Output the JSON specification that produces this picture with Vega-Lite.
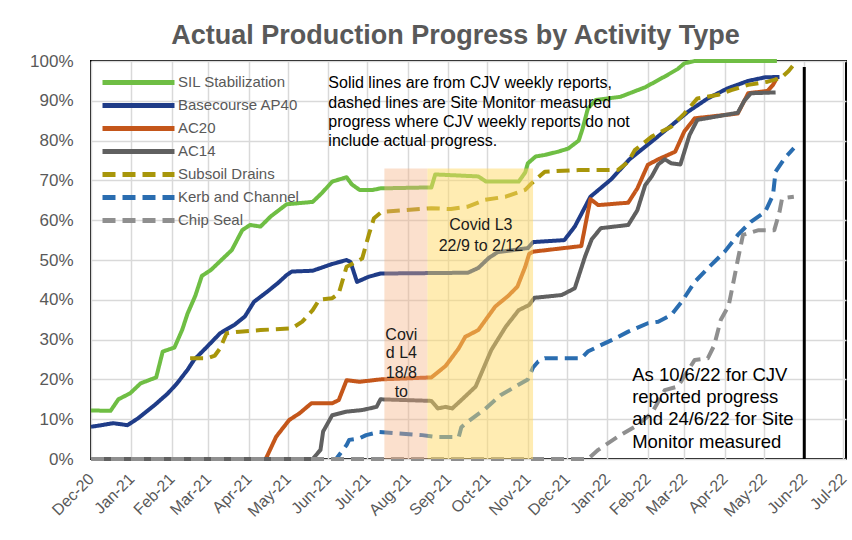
{
  "$schema": "https://vega.github.io/schema/vega-lite/v6.json",
  "width": 755,
  "height": 398,
  "autosize": {"type": "none"},
  "padding": {"left": 91, "top": 61, "right": 6, "bottom": 81},
  "background": "white",
  "config": {
    "font": "Liberation Sans",
    "view": {"stroke": "#000000", "strokeWidth": 2}
  },
  "title": {
    "text": "Actual Production Progress by Activity Type",
    "fontSize": 27,
    "fontWeight": "bold",
    "color": "#595959",
    "font": "Liberation Sans",
    "anchor": "middle",
    "frame": "group",
    "dx": -13,
    "dy": 35,
    "offset": 16,
    "baseline": "alphabetic"
  },
  "datasets": {
    "series": [
      {"series": "SIL Stabilization", "date": "2020-12-01", "pct": 12.2},
      {"series": "SIL Stabilization", "date": "2020-12-16", "pct": 12.1},
      {"series": "SIL Stabilization", "date": "2020-12-22", "pct": 15},
      {"series": "SIL Stabilization", "date": "2020-12-31", "pct": 16.5},
      {"series": "SIL Stabilization", "date": "2021-01-08", "pct": 19},
      {"series": "SIL Stabilization", "date": "2021-01-20", "pct": 20.5},
      {"series": "SIL Stabilization", "date": "2021-01-25", "pct": 27},
      {"series": "SIL Stabilization", "date": "2021-02-03", "pct": 28},
      {"series": "SIL Stabilization", "date": "2021-02-09", "pct": 32.5},
      {"series": "SIL Stabilization", "date": "2021-02-13", "pct": 36.5},
      {"series": "SIL Stabilization", "date": "2021-02-19", "pct": 41},
      {"series": "SIL Stabilization", "date": "2021-02-24", "pct": 46},
      {"series": "SIL Stabilization", "date": "2021-03-03", "pct": 47.5},
      {"series": "SIL Stabilization", "date": "2021-03-11", "pct": 50},
      {"series": "SIL Stabilization", "date": "2021-03-19", "pct": 52.5},
      {"series": "SIL Stabilization", "date": "2021-03-27", "pct": 57.5},
      {"series": "SIL Stabilization", "date": "2021-04-02", "pct": 58.8},
      {"series": "SIL Stabilization", "date": "2021-04-10", "pct": 58.4},
      {"series": "SIL Stabilization", "date": "2021-04-18", "pct": 61},
      {"series": "SIL Stabilization", "date": "2021-04-30", "pct": 64},
      {"series": "SIL Stabilization", "date": "2021-05-20", "pct": 64.6},
      {"series": "SIL Stabilization", "date": "2021-05-27", "pct": 66.8},
      {"series": "SIL Stabilization", "date": "2021-06-04", "pct": 69.7},
      {"series": "SIL Stabilization", "date": "2021-06-15", "pct": 70.8},
      {"series": "SIL Stabilization", "date": "2021-06-19", "pct": 69},
      {"series": "SIL Stabilization", "date": "2021-06-25", "pct": 67.6},
      {"series": "SIL Stabilization", "date": "2021-07-05", "pct": 67.6},
      {"series": "SIL Stabilization", "date": "2021-07-11", "pct": 68},
      {"series": "SIL Stabilization", "date": "2021-08-12", "pct": 68.2},
      {"series": "SIL Stabilization", "date": "2021-08-19", "pct": 68.2},
      {"series": "SIL Stabilization", "date": "2021-08-22", "pct": 71.5},
      {"series": "SIL Stabilization", "date": "2021-09-24", "pct": 71},
      {"series": "SIL Stabilization", "date": "2021-09-30", "pct": 69.7},
      {"series": "SIL Stabilization", "date": "2021-10-25", "pct": 69.7},
      {"series": "SIL Stabilization", "date": "2021-10-30", "pct": 72},
      {"series": "SIL Stabilization", "date": "2021-11-01", "pct": 74.3},
      {"series": "SIL Stabilization", "date": "2021-11-07", "pct": 76},
      {"series": "SIL Stabilization", "date": "2021-11-14", "pct": 76.4},
      {"series": "SIL Stabilization", "date": "2021-11-24", "pct": 77.2},
      {"series": "SIL Stabilization", "date": "2021-12-02", "pct": 78},
      {"series": "SIL Stabilization", "date": "2021-12-10", "pct": 80},
      {"series": "SIL Stabilization", "date": "2021-12-13", "pct": 83},
      {"series": "SIL Stabilization", "date": "2021-12-17", "pct": 88},
      {"series": "SIL Stabilization", "date": "2021-12-23", "pct": 90.2},
      {"series": "SIL Stabilization", "date": "2022-01-11", "pct": 91},
      {"series": "SIL Stabilization", "date": "2022-01-30", "pct": 93.4},
      {"series": "SIL Stabilization", "date": "2022-02-14", "pct": 96.1},
      {"series": "SIL Stabilization", "date": "2022-02-24", "pct": 98},
      {"series": "SIL Stabilization", "date": "2022-03-01", "pct": 99.4},
      {"series": "SIL Stabilization", "date": "2022-03-09", "pct": 100},
      {"series": "SIL Stabilization", "date": "2022-05-11", "pct": 100},

      {"series": "Basecourse AP40", "date": "2020-12-01", "pct": 8.1},
      {"series": "Basecourse AP40", "date": "2020-12-09", "pct": 8.5},
      {"series": "Basecourse AP40", "date": "2020-12-18", "pct": 9},
      {"series": "Basecourse AP40", "date": "2020-12-29", "pct": 8.5},
      {"series": "Basecourse AP40", "date": "2021-01-06", "pct": 10.2},
      {"series": "Basecourse AP40", "date": "2021-01-19", "pct": 13.6},
      {"series": "Basecourse AP40", "date": "2021-01-29", "pct": 16.5},
      {"series": "Basecourse AP40", "date": "2021-02-05", "pct": 19},
      {"series": "Basecourse AP40", "date": "2021-02-13", "pct": 22.4},
      {"series": "Basecourse AP40", "date": "2021-02-18", "pct": 24.9},
      {"series": "Basecourse AP40", "date": "2021-02-28", "pct": 28.2},
      {"series": "Basecourse AP40", "date": "2021-03-10", "pct": 31.6},
      {"series": "Basecourse AP40", "date": "2021-03-21", "pct": 33.7},
      {"series": "Basecourse AP40", "date": "2021-03-29", "pct": 35.8},
      {"series": "Basecourse AP40", "date": "2021-04-05", "pct": 39.5},
      {"series": "Basecourse AP40", "date": "2021-04-15", "pct": 42},
      {"series": "Basecourse AP40", "date": "2021-04-23", "pct": 44.1},
      {"series": "Basecourse AP40", "date": "2021-04-30", "pct": 46.2},
      {"series": "Basecourse AP40", "date": "2021-05-04", "pct": 47.1},
      {"series": "Basecourse AP40", "date": "2021-05-20", "pct": 47.3},
      {"series": "Basecourse AP40", "date": "2021-06-04", "pct": 49},
      {"series": "Basecourse AP40", "date": "2021-06-15", "pct": 50},
      {"series": "Basecourse AP40", "date": "2021-06-18", "pct": 49.5},
      {"series": "Basecourse AP40", "date": "2021-06-23", "pct": 44.5},
      {"series": "Basecourse AP40", "date": "2021-07-02", "pct": 45.8},
      {"series": "Basecourse AP40", "date": "2021-07-11", "pct": 46.6},
      {"series": "Basecourse AP40", "date": "2021-09-16", "pct": 46.8},
      {"series": "Basecourse AP40", "date": "2021-09-24", "pct": 48},
      {"series": "Basecourse AP40", "date": "2021-10-02", "pct": 50.5},
      {"series": "Basecourse AP40", "date": "2021-10-09", "pct": 52},
      {"series": "Basecourse AP40", "date": "2021-10-21", "pct": 52.5},
      {"series": "Basecourse AP40", "date": "2021-11-01", "pct": 53},
      {"series": "Basecourse AP40", "date": "2021-11-05", "pct": 54.5},
      {"series": "Basecourse AP40", "date": "2021-11-29", "pct": 55},
      {"series": "Basecourse AP40", "date": "2021-12-07", "pct": 58.4},
      {"series": "Basecourse AP40", "date": "2021-12-19", "pct": 65.9},
      {"series": "Basecourse AP40", "date": "2022-01-04", "pct": 70.3},
      {"series": "Basecourse AP40", "date": "2022-01-18", "pct": 75.3},
      {"series": "Basecourse AP40", "date": "2022-02-03", "pct": 79.5},
      {"series": "Basecourse AP40", "date": "2022-02-18", "pct": 83.5},
      {"series": "Basecourse AP40", "date": "2022-03-04", "pct": 87.3},
      {"series": "Basecourse AP40", "date": "2022-03-19", "pct": 90.6},
      {"series": "Basecourse AP40", "date": "2022-04-03", "pct": 93.1},
      {"series": "Basecourse AP40", "date": "2022-04-19", "pct": 95},
      {"series": "Basecourse AP40", "date": "2022-05-02", "pct": 95.9},
      {"series": "Basecourse AP40", "date": "2022-05-13", "pct": 96},

      {"series": "AC20", "date": "2020-12-01", "pct": 0},
      {"series": "AC20", "date": "2021-04-14", "pct": 0},
      {"series": "AC20", "date": "2021-04-22", "pct": 5.6},
      {"series": "AC20", "date": "2021-05-02", "pct": 9.8},
      {"series": "AC20", "date": "2021-05-10", "pct": 11.5},
      {"series": "AC20", "date": "2021-05-19", "pct": 14},
      {"series": "AC20", "date": "2021-06-04", "pct": 14},
      {"series": "AC20", "date": "2021-06-09", "pct": 14.8},
      {"series": "AC20", "date": "2021-06-15", "pct": 19.8},
      {"series": "AC20", "date": "2021-06-25", "pct": 19.4},
      {"series": "AC20", "date": "2021-07-11", "pct": 20},
      {"series": "AC20", "date": "2021-08-19", "pct": 20.5},
      {"series": "AC20", "date": "2021-08-30", "pct": 23.4},
      {"series": "AC20", "date": "2021-09-09", "pct": 27.8},
      {"series": "AC20", "date": "2021-09-14", "pct": 30.7},
      {"series": "AC20", "date": "2021-09-24", "pct": 32.4},
      {"series": "AC20", "date": "2021-10-07", "pct": 38.3},
      {"series": "AC20", "date": "2021-10-17", "pct": 41},
      {"series": "AC20", "date": "2021-10-24", "pct": 43.3},
      {"series": "AC20", "date": "2021-10-30", "pct": 48.3},
      {"series": "AC20", "date": "2021-11-02", "pct": 51.5},
      {"series": "AC20", "date": "2021-11-05", "pct": 52.1},
      {"series": "AC20", "date": "2021-12-12", "pct": 53.5},
      {"series": "AC20", "date": "2021-12-19", "pct": 65.3},
      {"series": "AC20", "date": "2021-12-25", "pct": 63.8},
      {"series": "AC20", "date": "2022-01-17", "pct": 64.4},
      {"series": "AC20", "date": "2022-01-24", "pct": 68},
      {"series": "AC20", "date": "2022-02-01", "pct": 73.9},
      {"series": "AC20", "date": "2022-02-09", "pct": 75.3},
      {"series": "AC20", "date": "2022-02-22", "pct": 77.2},
      {"series": "AC20", "date": "2022-03-01", "pct": 82.3},
      {"series": "AC20", "date": "2022-03-09", "pct": 85.6},
      {"series": "AC20", "date": "2022-04-11", "pct": 86.8},
      {"series": "AC20", "date": "2022-04-19", "pct": 91.9},
      {"series": "AC20", "date": "2022-05-04", "pct": 92.5},
      {"series": "AC20", "date": "2022-05-08", "pct": 94},
      {"series": "AC20", "date": "2022-05-11", "pct": 95.7},

      {"series": "AC14", "date": "2020-12-01", "pct": 0},
      {"series": "AC14", "date": "2021-05-20", "pct": 0},
      {"series": "AC14", "date": "2021-05-26", "pct": 2.3},
      {"series": "AC14", "date": "2021-05-28", "pct": 6.9},
      {"series": "AC14", "date": "2021-06-04", "pct": 11},
      {"series": "AC14", "date": "2021-06-15", "pct": 11.9},
      {"series": "AC14", "date": "2021-06-27", "pct": 12.3},
      {"series": "AC14", "date": "2021-07-08", "pct": 13.1},
      {"series": "AC14", "date": "2021-07-11", "pct": 15},
      {"series": "AC14", "date": "2021-08-19", "pct": 14.6},
      {"series": "AC14", "date": "2021-08-24", "pct": 12.7},
      {"series": "AC14", "date": "2021-08-30", "pct": 13.1},
      {"series": "AC14", "date": "2021-09-04", "pct": 12.7},
      {"series": "AC14", "date": "2021-09-11", "pct": 14.8},
      {"series": "AC14", "date": "2021-09-22", "pct": 18.2},
      {"series": "AC14", "date": "2021-10-04", "pct": 27.4},
      {"series": "AC14", "date": "2021-10-15", "pct": 33.2},
      {"series": "AC14", "date": "2021-10-25", "pct": 37.4},
      {"series": "AC14", "date": "2021-11-02", "pct": 38.7},
      {"series": "AC14", "date": "2021-11-06", "pct": 40.5},
      {"series": "AC14", "date": "2021-11-27", "pct": 41.2},
      {"series": "AC14", "date": "2021-12-07", "pct": 42.9},
      {"series": "AC14", "date": "2021-12-15", "pct": 51},
      {"series": "AC14", "date": "2021-12-20", "pct": 55.2},
      {"series": "AC14", "date": "2021-12-27", "pct": 58},
      {"series": "AC14", "date": "2022-01-17", "pct": 58.8},
      {"series": "AC14", "date": "2022-01-24", "pct": 62.5},
      {"series": "AC14", "date": "2022-01-30", "pct": 68.8},
      {"series": "AC14", "date": "2022-02-04", "pct": 71},
      {"series": "AC14", "date": "2022-02-09", "pct": 74},
      {"series": "AC14", "date": "2022-02-14", "pct": 75.3},
      {"series": "AC14", "date": "2022-02-19", "pct": 74.3},
      {"series": "AC14", "date": "2022-02-26", "pct": 74},
      {"series": "AC14", "date": "2022-03-05", "pct": 81.4},
      {"series": "AC14", "date": "2022-03-11", "pct": 85.2},
      {"series": "AC14", "date": "2022-04-11", "pct": 87},
      {"series": "AC14", "date": "2022-04-16", "pct": 90},
      {"series": "AC14", "date": "2022-04-21", "pct": 91.9},
      {"series": "AC14", "date": "2022-05-10", "pct": 92.1},

      {"series": "Subsoil Drains", "date": "2021-02-15", "pct": 25.3},
      {"series": "Subsoil Drains", "date": "2021-02-28", "pct": 25.3},
      {"series": "Subsoil Drains", "date": "2021-03-06", "pct": 26},
      {"series": "Subsoil Drains", "date": "2021-03-10", "pct": 27.8},
      {"series": "Subsoil Drains", "date": "2021-03-15", "pct": 31.6},
      {"series": "Subsoil Drains", "date": "2021-03-25", "pct": 32},
      {"series": "Subsoil Drains", "date": "2021-04-10", "pct": 32.4},
      {"series": "Subsoil Drains", "date": "2021-05-04", "pct": 32.8},
      {"series": "Subsoil Drains", "date": "2021-05-12", "pct": 34.5},
      {"series": "Subsoil Drains", "date": "2021-05-20", "pct": 37.4},
      {"series": "Subsoil Drains", "date": "2021-05-25", "pct": 40},
      {"series": "Subsoil Drains", "date": "2021-06-04", "pct": 40.4},
      {"series": "Subsoil Drains", "date": "2021-06-09", "pct": 41.6},
      {"series": "Subsoil Drains", "date": "2021-06-15", "pct": 48.3},
      {"series": "Subsoil Drains", "date": "2021-06-25", "pct": 50},
      {"series": "Subsoil Drains", "date": "2021-06-27", "pct": 50.4},
      {"series": "Subsoil Drains", "date": "2021-07-02", "pct": 56.3},
      {"series": "Subsoil Drains", "date": "2021-07-06", "pct": 60.5},
      {"series": "Subsoil Drains", "date": "2021-07-12", "pct": 62.1},
      {"series": "Subsoil Drains", "date": "2021-08-19", "pct": 63},
      {"series": "Subsoil Drains", "date": "2021-09-03", "pct": 62.8},
      {"series": "Subsoil Drains", "date": "2021-09-16", "pct": 63.4},
      {"series": "Subsoil Drains", "date": "2021-09-29", "pct": 65.1},
      {"series": "Subsoil Drains", "date": "2021-10-15", "pct": 65.9},
      {"series": "Subsoil Drains", "date": "2021-10-30", "pct": 67.6},
      {"series": "Subsoil Drains", "date": "2021-11-04", "pct": 69.3},
      {"series": "Subsoil Drains", "date": "2021-11-14", "pct": 72.2},
      {"series": "Subsoil Drains", "date": "2021-12-10", "pct": 72.6},
      {"series": "Subsoil Drains", "date": "2022-01-09", "pct": 72.6},
      {"series": "Subsoil Drains", "date": "2022-01-17", "pct": 74.7},
      {"series": "Subsoil Drains", "date": "2022-01-22", "pct": 77.6},
      {"series": "Subsoil Drains", "date": "2022-02-04", "pct": 81},
      {"series": "Subsoil Drains", "date": "2022-02-19", "pct": 83.5},
      {"series": "Subsoil Drains", "date": "2022-03-01", "pct": 86.8},
      {"series": "Subsoil Drains", "date": "2022-03-11", "pct": 90.6},
      {"series": "Subsoil Drains", "date": "2022-03-27", "pct": 91.5},
      {"series": "Subsoil Drains", "date": "2022-04-06", "pct": 92.7},
      {"series": "Subsoil Drains", "date": "2022-04-19", "pct": 94},
      {"series": "Subsoil Drains", "date": "2022-05-04", "pct": 94.8},
      {"series": "Subsoil Drains", "date": "2022-05-14", "pct": 95.7},
      {"series": "Subsoil Drains", "date": "2022-05-20", "pct": 97.5},
      {"series": "Subsoil Drains", "date": "2022-05-25", "pct": 99.5},

      {"series": "Kerb and Channel", "date": "2020-12-01", "pct": 0},
      {"series": "Kerb and Channel", "date": "2021-06-07", "pct": 0},
      {"series": "Kerb and Channel", "date": "2021-06-15", "pct": 3.5},
      {"series": "Kerb and Channel", "date": "2021-06-17", "pct": 4.8},
      {"series": "Kerb and Channel", "date": "2021-06-25", "pct": 5.2},
      {"series": "Kerb and Channel", "date": "2021-06-30", "pct": 6},
      {"series": "Kerb and Channel", "date": "2021-07-10", "pct": 6.8},
      {"series": "Kerb and Channel", "date": "2021-08-12", "pct": 6},
      {"series": "Kerb and Channel", "date": "2021-08-24", "pct": 5.5},
      {"series": "Kerb and Channel", "date": "2021-09-09", "pct": 5.5},
      {"series": "Kerb and Channel", "date": "2021-09-11", "pct": 8},
      {"series": "Kerb and Channel", "date": "2021-09-16", "pct": 9.4},
      {"series": "Kerb and Channel", "date": "2021-09-29", "pct": 12.5},
      {"series": "Kerb and Channel", "date": "2021-10-11", "pct": 16},
      {"series": "Kerb and Channel", "date": "2021-11-01", "pct": 20},
      {"series": "Kerb and Channel", "date": "2021-11-05", "pct": 23},
      {"series": "Kerb and Channel", "date": "2021-11-09", "pct": 24.5},
      {"series": "Kerb and Channel", "date": "2021-11-14", "pct": 25.3},
      {"series": "Kerb and Channel", "date": "2021-12-12", "pct": 25.3},
      {"series": "Kerb and Channel", "date": "2021-12-17", "pct": 27},
      {"series": "Kerb and Channel", "date": "2021-12-27", "pct": 28.6},
      {"series": "Kerb and Channel", "date": "2022-01-07", "pct": 30.3},
      {"series": "Kerb and Channel", "date": "2022-01-17", "pct": 32},
      {"series": "Kerb and Channel", "date": "2022-02-01", "pct": 34.1},
      {"series": "Kerb and Channel", "date": "2022-02-09", "pct": 34.5},
      {"series": "Kerb and Channel", "date": "2022-02-19", "pct": 36.2},
      {"series": "Kerb and Channel", "date": "2022-02-27", "pct": 39.5},
      {"series": "Kerb and Channel", "date": "2022-03-09", "pct": 44.5},
      {"series": "Kerb and Channel", "date": "2022-03-19", "pct": 47.9},
      {"series": "Kerb and Channel", "date": "2022-04-01", "pct": 52.1},
      {"series": "Kerb and Channel", "date": "2022-04-11", "pct": 56.3},
      {"series": "Kerb and Channel", "date": "2022-04-21", "pct": 59.6},
      {"series": "Kerb and Channel", "date": "2022-05-02", "pct": 62.1},
      {"series": "Kerb and Channel", "date": "2022-05-08", "pct": 66.3},
      {"series": "Kerb and Channel", "date": "2022-05-10", "pct": 72.2},
      {"series": "Kerb and Channel", "date": "2022-05-17", "pct": 75.6},
      {"series": "Kerb and Channel", "date": "2022-05-24", "pct": 78.1},

      {"series": "Chip Seal", "date": "2020-12-01", "pct": 0},
      {"series": "Chip Seal", "date": "2021-12-17", "pct": 0},
      {"series": "Chip Seal", "date": "2021-12-25", "pct": 2.3},
      {"series": "Chip Seal", "date": "2022-01-09", "pct": 5.6},
      {"series": "Chip Seal", "date": "2022-01-22", "pct": 8.1},
      {"series": "Chip Seal", "date": "2022-02-04", "pct": 11.5},
      {"series": "Chip Seal", "date": "2022-02-14", "pct": 17.3},
      {"series": "Chip Seal", "date": "2022-02-24", "pct": 18.2},
      {"series": "Chip Seal", "date": "2022-03-09", "pct": 24.9},
      {"series": "Chip Seal", "date": "2022-03-19", "pct": 25.3},
      {"series": "Chip Seal", "date": "2022-03-24", "pct": 28.6},
      {"series": "Chip Seal", "date": "2022-03-29", "pct": 35},
      {"series": "Chip Seal", "date": "2022-04-04", "pct": 38.5},
      {"series": "Chip Seal", "date": "2022-04-08", "pct": 45},
      {"series": "Chip Seal", "date": "2022-04-11", "pct": 50},
      {"series": "Chip Seal", "date": "2022-04-15", "pct": 56.3},
      {"series": "Chip Seal", "date": "2022-04-27", "pct": 57.5},
      {"series": "Chip Seal", "date": "2022-05-09", "pct": 57.5},
      {"series": "Chip Seal", "date": "2022-05-13", "pct": 62.1},
      {"series": "Chip Seal", "date": "2022-05-15", "pct": 65.5},
      {"series": "Chip Seal", "date": "2022-05-24", "pct": 65.9}
    ],
    "covid": [
      {"level": "L4", "start": "2021-07-14", "end": "2021-08-16", "lo": 0, "hi": 73},
      {"level": "L3", "start": "2021-08-16", "end": "2021-11-05", "lo": 0, "hi": 73}
    ],
    "marker": [
      {"date": "2022-06-01", "lo": 0, "hi": 98.5}
    ],
    "note": [
      {"date": "2021-06-01", "pct": 94.4, "t": "Solid lines are from CJV weekly reports,"},
      {"date": "2021-06-01", "pct": 89.5, "t": "dashed lines are Site Monitor measured"},
      {"date": "2021-06-01", "pct": 84.7, "t": "progress where CJV weekly reports do not"},
      {"date": "2021-06-01", "pct": 79.8, "t": "include actual progress."}
    ],
    "l3": [
      {"date": "2021-09-26", "pct": 58.8, "t": "Covid L3"},
      {"date": "2021-09-26", "pct": 53.5, "t": "22/9 to 2/12"}
    ],
    "l4": [
      {"date": "2021-07-27", "pct": 31.2, "t": "Covi"},
      {"date": "2021-07-27", "pct": 26.6, "t": "d L4"},
      {"date": "2021-07-27", "pct": 21.5, "t": "18/8"},
      {"date": "2021-07-27", "pct": 16.9, "t": "to"}
    ],
    "asof": [
      {"date": "2022-01-20", "pct": 21.1, "t": "As 10/6/22 for CJV"},
      {"date": "2022-01-20", "pct": 15.7, "t": "reported progress"},
      {"date": "2022-01-20", "pct": 10.0, "t": "and 24/6/22 for Site"},
      {"date": "2022-01-20", "pct": 4.3, "t": "Monitor measured"}
    ]
  },
  "encoding": {
    "x": {
      "field": "date",
      "type": "temporal",
      "scale": {
        "type": "utc",
        "domain": [
          {"year": 2020, "month": 12, "date": 1, "utc": true},
          {"year": 2022, "month": 7, "date": 3, "utc": true}
        ]
      },
      "axis": {
        "title": null,
        "format": "%b-%y",
        "tickCount": {"interval": "month", "step": 1},
        "labelAngle": -45,
        "labelAlign": "right",
        "labelBaseline": "middle",
        "labelPadding": 17,
        "labelFontSize": 16,
        "labelColor": "#595959",
        "labelFont": "Liberation Sans",
        "labelOverlap": false,
        "labelFlush": false,
        "labelBound": false,
        "ticks": false,
        "domain": false,
        "grid": true,
        "gridColor": "#D9D9D9",
        "gridWidth": 1.5
      }
    },
    "y": {
      "field": "pct",
      "type": "quantitative",
      "scale": {"domain": [0, 100], "nice": false},
      "axis": {
        "title": null,
        "values": [0, 10, 20, 30, 40, 50, 60, 70, 80, 90, 100],
        "labelExpr": "datum.value + '%'",
        "labelFontSize": 17,
        "labelColor": "#595959",
        "labelFont": "Liberation Sans",
        "labelPadding": 18,
        "ticks": false,
        "domain": false,
        "grid": true,
        "gridColor": "#D9D9D9",
        "gridWidth": 1.5
      }
    }
  },
  "layer": [
    {
      "data": {"name": "series"},
      "mark": {"type": "line", "strokeWidth": 4, "strokeJoin": "round", "strokeCap": "butt"},
      "encoding": {
        "color": {
          "field": "series",
          "type": "nominal",
          "sort": null,
          "scale": {
            "domain": ["SIL Stabilization", "Basecourse AP40", "AC20", "AC14", "Subsoil Drains", "Kerb and Channel", "Chip Seal"],
            "range": ["#6FBE44", "#1F3C88", "#C4561A", "#606060", "#A8960A", "#2A6DB0", "#8F8F8F"]
          },
          "legend": {
            "title": null,
            "orient": "none",
            "legendX": 9,
            "legendY": 10,
            "symbolType": "stroke",
            "symbolSize": 5184,
            "symbolStrokeWidth": 5,
            "clipHeight": 22.8,
            "rowPadding": 0,
            "padding": 0,
            "labelFontSize": 15,
            "labelColor": "#595959",
            "labelFont": "Liberation Sans",
            "labelOffset": 1,
            "labelLimit": 300
          }
        },
        "strokeDash": {
          "field": "series",
          "type": "nominal",
          "sort": null,
          "scale": {
            "domain": ["SIL Stabilization", "Basecourse AP40", "AC20", "AC14", "Subsoil Drains", "Kerb and Channel", "Chip Seal"],
            "range": [[1, 0], [1, 0], [1, 0], [1, 0], [13, 7], [13, 7], [13, 7]]
          }
        }
      }
    },
    {
      "data": {"name": "covid"},
      "transform": [{"filter": "datum.level == 'L4'"}],
      "mark": {"type": "rect", "color": "#F4B183", "opacity": 0.4},
      "encoding": {
        "x": {"field": "start", "type": "temporal"},
        "x2": {"field": "end"},
        "y": {"field": "lo", "type": "quantitative"},
        "y2": {"field": "hi"}
      }
    },
    {
      "data": {"name": "covid"},
      "transform": [{"filter": "datum.level == 'L3'"}],
      "mark": {"type": "rect", "color": "#FFD966", "opacity": 0.5},
      "encoding": {
        "x": {"field": "start", "type": "temporal"},
        "x2": {"field": "end"},
        "y": {"field": "lo", "type": "quantitative"},
        "y2": {"field": "hi"}
      }
    },
    {
      "data": {"name": "marker"},
      "mark": {"type": "rule", "color": "#000000", "strokeWidth": 3},
      "encoding": {
        "x": {"field": "date", "type": "temporal"},
        "y": {"field": "lo", "type": "quantitative"},
        "y2": {"field": "hi"}
      }
    },
    {
      "data": {"name": "note"},
      "mark": {"type": "text", "align": "left", "baseline": "middle", "fontSize": 16, "color": "#000000", "font": "Liberation Sans"},
      "encoding": {"text": {"field": "t"}}
    },
    {
      "data": {"name": "l3"},
      "mark": {"type": "text", "align": "center", "baseline": "middle", "fontSize": 16, "color": "#1a1a1a", "font": "Liberation Sans"},
      "encoding": {"text": {"field": "t"}}
    },
    {
      "data": {"name": "l4"},
      "mark": {"type": "text", "align": "center", "baseline": "middle", "fontSize": 16, "color": "#1a1a1a", "font": "Liberation Sans"},
      "encoding": {"text": {"field": "t"}}
    },
    {
      "data": {"name": "asof"},
      "mark": {"type": "text", "align": "left", "baseline": "middle", "fontSize": 18.5, "color": "#000000", "font": "Liberation Sans"},
      "encoding": {"text": {"field": "t"}}
    }
  ]
}
